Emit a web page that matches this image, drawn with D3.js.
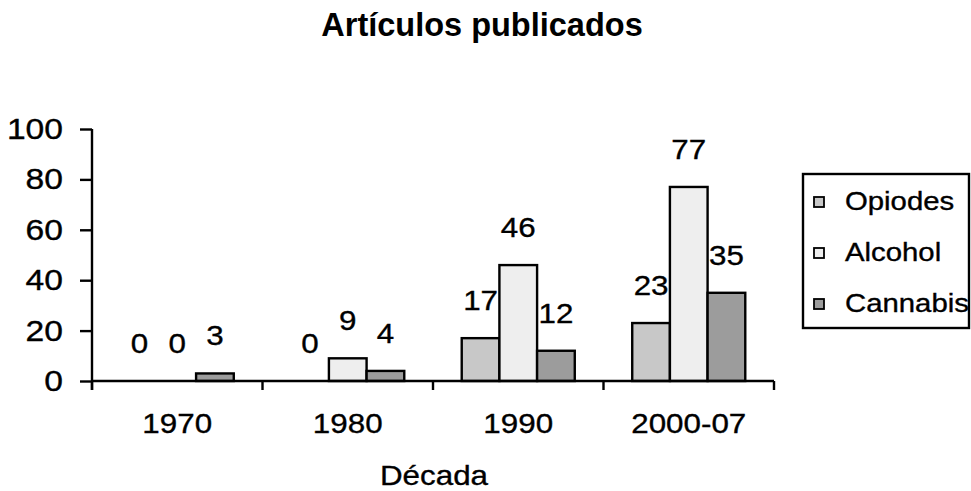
<!DOCTYPE html>
<html>
<head>
<meta charset="utf-8">
<script src="https://cdn.jsdelivr.net/npm/d3@7"></script>
<style>
  html, body { margin: 0; padding: 0; background: #fff; }
  svg { display: block; }
  text { font-family: "Liberation Sans", Arial, sans-serif; fill: #000; }
  text.reg { stroke: #000; stroke-width: 0.35px; }
</style>
</head>
<body>
<svg id="chart" width="971" height="491"></svg>
<script>
const categories = ["1970", "1980", "1990", "2000-07"];
const seriesNames = ["Opiodes", "Alcohol", "Cannabis"];
const opiodes = [0, 0, 17, 23];
const alcohol = [0, 9, 46, 77];
const cannabis = [3, 4, 12, 35];
const yTicks = [0, 20, 40, 60, 80, 100];
const chartTitle = "Artículos publicados";
const xTitle = "Década";

const seriesValues = [opiodes, alcohol, cannabis];
const colors = ["#c8c8c8", "#eeeeee", "#9c9c9c"];
const SX = 1.12;

const svg = d3.select("#chart");
const plotLeft = 92, plotRight = 774, plotTop = 129, plotBottom = 381;

const y = d3.scaleLinear().domain([0, 100]).range([plotBottom, plotTop]);
const x0 = d3.scaleBand().domain(categories).range([plotLeft, plotRight])
  .paddingInner(0.337).paddingOuter(0.1685);
const x1 = d3.scaleBand().domain(seriesNames).range([0, x0.bandwidth()]);

function stretchedText(g, x, yy, str, size, anchor, sx, weight) {
  return g.append("text")
    .attr("class", weight ? "bold" : "reg")
    .attr("transform", `translate(${x},${yy}) scale(${sx},1)`)
    .attr("text-anchor", anchor)
    .style("font-size", size + "px")
    .style("font-weight", weight || "normal")
    .text(str);
}

// Title
stretchedText(svg, 482, 36, chartTitle, 32.5, "middle", 1, "bold");

// Bars
const rows = categories.map((c, i) => ({ cat: c, vals: seriesNames.map((s, j) => ({ s, j, v: seriesValues[j][i] })) }));
const groups = svg.append("g").selectAll("g").data(rows).join("g")
  .attr("transform", d => `translate(${x0(d.cat)},0)`);
groups.selectAll("rect").data(d => d.vals.filter(e => e.v > 0)).join("rect")
  .attr("x", d => x1(d.s))
  .attr("y", d => y(d.v))
  .attr("width", x1.bandwidth())
  .attr("height", d => y(0) - y(d.v))
  .attr("fill", d => colors[d.j])
  .attr("stroke", "#000")
  .attr("stroke-width", 2.4);

// Value labels
groups.each(function (d) {
  const g = d3.select(this);
  d.vals.forEach(e => {
    stretchedText(g, x1(e.s) + x1.bandwidth() / 2, y(e.v) - 28, String(e.v), 28, "middle", SX);
  });
});

// Y axis
const yAxis = svg.append("g").attr("transform", `translate(${plotLeft},0)`)
  .call(d3.axisLeft(y).tickValues(yTicks).tickSize(12).tickPadding(17).tickSizeOuter(0));
yAxis.selectAll("path, line").attr("stroke", "#000").attr("stroke-width", 2.4);
yAxis.select(".domain").attr("d", `M0,${plotTop}V${plotBottom + 9}`);
yAxis.selectAll("text").remove();
yTicks.forEach(t => stretchedText(svg, 63, y(t) + 10, String(t), 29, "end", 1.16));

// X axis line and boundary ticks
const xg = svg.append("g");
xg.append("line").attr("x1", plotLeft).attr("x2", plotRight).attr("y1", plotBottom).attr("y2", plotBottom)
  .attr("stroke", "#000").attr("stroke-width", 2.4);
const boundaries = categories.map(c => x0(c) - x0.step() * x0.paddingOuter()).concat([plotRight]);
xg.selectAll("line.tick").data(boundaries).join("line").attr("class", "tick")
  .attr("x1", d => d).attr("x2", d => d).attr("y1", plotBottom).attr("y2", plotBottom + 9)
  .attr("stroke", "#000").attr("stroke-width", 2.4);

// Category labels
categories.forEach(c => stretchedText(svg, x0(c) + x0.bandwidth() / 2, 433, c, 28, "middle", SX));

// X title
stretchedText(svg, 434, 485, xTitle, 28, "middle", SX);

// Legend
const lg = svg.append("g");
lg.append("rect").attr("x", 803).attr("y", 174).attr("width", 166).attr("height", 154)
  .attr("fill", "#fff").attr("stroke", "#000").attr("stroke-width", 2.4);
seriesNames.forEach((s, j) => {
  const cy = 202 + j * 51;
  lg.append("rect").attr("x", 814).attr("y", cy - 5).attr("width", 10).attr("height", 10)
    .attr("fill", colors[j]).attr("stroke", "#000").attr("stroke-width", 1.8);
  stretchedText(lg, 845, cy + 8, s, 25.5, "start", 1.15);
});
</script>
</body>
</html>
